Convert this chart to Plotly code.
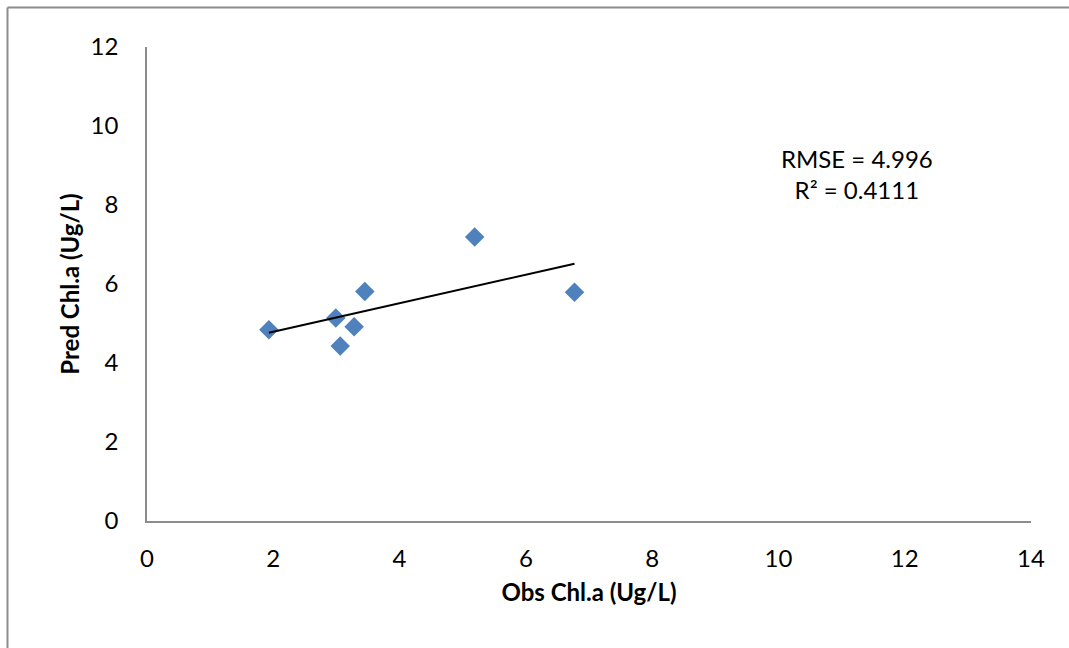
import numpy as np
import plotly.graph_objects as go

obs = [1.93, 2.99, 3.06, 3.28, 3.45, 5.19, 6.77]
pred = [4.84, 5.14, 4.43, 4.92, 5.81, 7.19, 5.79]
x_ticks = [0, 2, 4, 6, 8, 10, 12, 14]
y_ticks = [0, 2, 4, 6, 8, 10, 12]
stats_text = "RMSE = 4.996<br>R² = 0.4111"

slope, intercept = np.polyfit(obs, pred, 1)
tx = [min(obs), max(obs)]
ty = [slope * v + intercept for v in tx]

FONT = "Lato"
FS = 24
W, H = 1069, 648
L, T = 147, 47
PW, PH = 884, 474

fig = go.Figure()
fig.add_trace(go.Scatter(x=obs, y=pred, mode="markers",
                         marker=dict(symbol="diamond", size=15, color="#4F81BD",
                                     line=dict(width=0)),
                         showlegend=False))
fig.add_trace(go.Scatter(x=tx, y=ty, mode="lines",
                         line=dict(color="black", width=2), showlegend=False))

axis_common = dict(showgrid=False, zeroline=False, showline=True, linecolor="#8c8c8c",
                   linewidth=1.5, ticks="", tickfont=dict(family=FONT, size=FS, color="black"))
fig.update_xaxes(range=[0, 14], tickvals=x_ticks, ticklabelstandoff=15,
                 title=dict(text="<b>Obs Chl.a (Ug/L)</b>", font=dict(family=FONT, size=FS, color="black"),
                            standoff=14),
                 **axis_common)
fig.update_yaxes(range=[0, 12], tickvals=y_ticks, ticklabelstandoff=22,
                 title=dict(text="<b>Pred Chl.a (Ug/L)</b>", font=dict(family=FONT, size=FS, color="black"),
                            standoff=4),
                 **axis_common)

fig.add_annotation(xref="paper", yref="paper", x=(857 - L) / PW, y=(521 - 173.5) / PH,
                   xanchor="center", yanchor="middle",
                   text=stats_text, showarrow=False, align="center",
                   font=dict(family=FONT, size=FS, color="black"))

# outer chart border (top and left edges visible)
bx = (7.5 - L) / PW
by = 1 + (T - 7.5) / PH
fig.add_shape(type="line", xref="paper", yref="paper", x0=bx, x1=1.3,
              y0=by, y1=by, line=dict(color="#8c8c8c", width=2))
fig.add_shape(type="line", xref="paper", yref="paper", x0=bx, x1=bx,
              y0=by, y1=-0.5, line=dict(color="#8c8c8c", width=2))

fig.update_layout(width=W, height=H, margin=dict(l=L, r=W - L - PW, t=T, b=H - T - PH),
                  paper_bgcolor="white", plot_bgcolor="white")
fig.write_html("out.html", config={"displayModeBar": False},
               post_script="document.body.style.margin='0';document.body.style.overflow='hidden';")
